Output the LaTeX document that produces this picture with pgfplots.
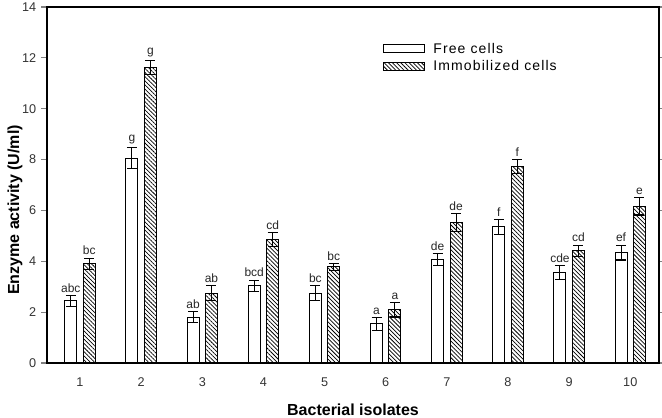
\documentclass[border=0pt]{standalone}
\usepackage{fontspec}
\setmainfont{Liberation Sans}
\usepackage{pgfplots}
\usepackage{pgfplotstable}
\pgfplotsset{compat=1.18}
\usetikzlibrary{patterns.meta,calc}

% isolate, free cells (mean, error, letter), immobilized cells (mean, error, letter)
\pgfplotstableread{
x  free fe   fl  imm   ie   il
1  2.44 0.22 abc 3.90  0.22 bc
2  8.06 0.42 g   11.62 0.28 g
3  1.80 0.22 ab  2.74  0.29 ab
4  3.03 0.23 bcd 4.85  0.27 cd
5  2.74 0.29 bc  3.78  0.13 bc
6  1.54 0.25 a   2.09  0.28 a
7  4.07 0.24 de  5.52  0.35 de
8  5.35 0.30 f   7.74  0.27 f
9  3.55 0.27 cde 4.41  0.22 cd
10 4.34 0.29 ef  6.16  0.34 e
}\enzyme

\begin{document}
\begin{tikzpicture}
\begin{axis}[
    scale only axis,
    width=459pt, height=267pt,
    xmin=0.46, xmax=10.47,
    ymin=0, ymax=14,
    xtick={1,...,10},
    ytick={0,2,...,14},
    axis line style={line width=0.9pt},
    tick align=outside,
    major tick length=4.5pt,
    xtick style={draw=none},
    ytick style={line width=0.8pt},
    /pgf/number format/assume math mode=true,
    tick label style={font=\fontsize{9.5}{11}\selectfont, text=black!80},
    x tick label style={yshift=-3pt},
    xlabel={Bacterial isolates},
    ylabel={Enzyme activity (U/ml)},
    label style={font=\fontsize{12}{14}\selectfont\bfseries},
    xlabel style={at={(axis description cs:0.5,-0.131)}, anchor=center},
    ylabel style={at={(axis description cs:-0.0523,0.43)}, anchor=center},
    ybar=4.8pt, bar width=9pt,
    clip=false,
    area legend,
    legend image code/.code={\draw[#1, line width=0.8pt] (0pt,-3pt) rectangle (31pt,3pt); \path (35pt,0pt);},
    legend style={at={(0.542,0.915)}, anchor=north west, draw=none, fill=none,
        font=\fontsize{10.5}{12}\selectfont\addfontfeatures{LetterSpace=8},
        row sep=0pt, cells={anchor=west}},
    error bars/y dir=both,
    error bars/y explicit,
    error bars/error bar style={line width=0.8pt, draw=black},
    error bars/error mark options={rotate=90, mark size=3.75pt, line width=0.8pt, draw=black},
    nodes near coords,
    point meta=explicit symbolic,
    every node near coord/.append style={font=\fontsize{9}{10}\selectfont, text=black!85,
        anchor=south, inner sep=1pt, yshift={\err*19.07pt+1pt}},
]
\coordinate (sw) at (rel axis cs:0,0);
\coordinate (ne) at (rel axis cs:1,1);
\addplot[draw=black, fill=white, line width=0.8pt,
    visualization depends on={\thisrow{fe} \as \err}]
    table[x=x, y=free, y error=fe, meta=fl] {\enzyme};
\addplot[draw=black, line width=0.8pt,
    pattern={Lines[angle=-45, distance=2.2pt, line width=0.55pt]},
    visualization depends on={\thisrow{ie} \as \err}]
    table[x=x, y=imm, y error=ie, meta=il] {\enzyme};
\legend{Free cells, Immobilized cells}
\end{axis}
\pgfresetboundingbox
\path ($(sw)+(-35.25pt,-40.5pt)$) rectangle ($(ne)+(2.25pt,5.25pt)$);
\end{tikzpicture}
\end{document}
